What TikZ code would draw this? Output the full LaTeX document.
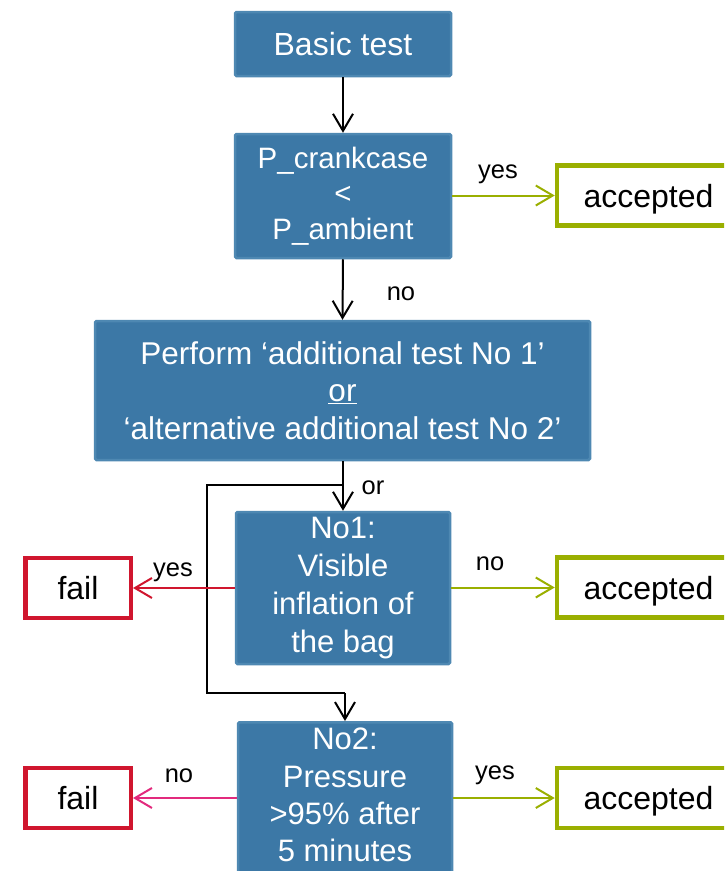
\documentclass[tikz,border=0pt]{standalone}
\usepackage{fontspec}
\setmainfont{Liberation Sans}
\usetikzlibrary{arrows.meta}
\definecolor{boxfill}{RGB}{60,120,166}
\definecolor{boxedge}{RGB}{78,136,178}
\definecolor{accgreen}{RGB}{154,175,0}
\definecolor{failred}{RGB}{208,22,46}
\definecolor{failpink}{RGB}{226,42,125}
\tikzset{
  bluebox/.style={draw=boxedge, line width=2.5pt, fill=boxfill, text=white, align=center, inner sep=0pt, rounded corners=1.5pt},
  resbox/.style={line width=4.5pt, fill=white, text=black, inner sep=0pt, minimum height=60pt, text depth=0pt, font=\fontsize{32}{38}\selectfont},
  lbl/.style={inner sep=0pt, text=black, font=\fontsize{25.5}{30}\selectfont},
  arr/.style={line width=2pt, -{Straight Barb[length=17pt,width=20pt]}},
}
\begin{document}
\begin{tikzpicture}[x=1pt,y=-1pt]
\useasboundingbox (0,0) rectangle (724,871);
\clip (0,0) rectangle (724,871);
% blue boxes
\node[bluebox, minimum width=216, minimum height=64, font=\fontsize{32}{38}\selectfont] (basic) at (343,44) {Basic test};
\node[bluebox, minimum width=216, minimum height=124, font=\fontsize{29.5}{35.5}\selectfont] (pc) at (343,196) {P\_crankcase\\<\\P\_ambient};
\node[bluebox, minimum width=495, minimum height=139, font=\fontsize{31.5}{37.5}\selectfont] (perf) at (342.5,390.5) {Perform ‘additional test No 1’\\\underline{or}\\‘alternative additional test No 2’};
\node[bluebox, minimum width=214, minimum height=152, font=\fontsize{31}{38.3}\selectfont] (no1) at (343,588) {No1:\\Visible\\inflation of\\the bag};
\node[bluebox, minimum width=214, anchor=north, inner ysep=6pt, text depth=20pt, font=\fontsize{31}{37.3}\selectfont] (no2) at (345,721) {No2:\\Pressure\\>95\% after\\5 minutes};
% result boxes
\node[resbox, draw=accgreen, minimum width=183] (acc1) at (648.5,195.5) {accepted};
\node[resbox, draw=accgreen, minimum width=183] (acc2) at (648.5,587.5) {accepted};
\node[resbox, draw=accgreen, minimum width=183] (acc3) at (648.5,798) {accepted};
\node[resbox, draw=failred, minimum width=105.5] (fail1) at (78,588) {fail};
\node[resbox, draw=failred, minimum width=105.5] (fail2) at (78,798) {fail};
% connectors
\draw[arr] (basic.south) -- (pc.north);
\draw[arr] (pc.south) -- (perf.north);
\draw[arr, accgreen] (pc.east |- acc1.west) -- (acc1.west);
\coordinate (j1) at (343,485);
\coordinate (k1) at (207,485);
\coordinate (k2) at (207,693);
\coordinate (k3) at (345,693);
\draw[arr] (perf.south -| no1.north) -- (no1.north);
\draw[line width=2pt] (j1) -- (k1) -- (k2) -- (k3);
\draw[arr] (k3) -- (no2.north);
\draw[arr, failred] (no1.west |- fail1.east) -- (fail1.east);
\draw[arr, accgreen] (no1.east |- acc2.west) -- (acc2.west);
\draw[arr, failpink] (no2.west |- fail2.east) -- (fail2.east);
\draw[arr, accgreen] (no2.east |- acc3.west) -- (acc3.west);
% labels
\node[lbl] (l1) at (498,174) {yes};
\node[lbl] (l2) at (401,294) {no};
\node[lbl] (l3) at (373,488) {or};
\node[lbl] (l4) at (173,572) {yes};
\node[lbl] (l5) at (490,564) {no};
\node[lbl] (l6) at (179,776) {no};
\node[lbl] (l7) at (495,775) {yes};
\end{tikzpicture}
\end{document}
